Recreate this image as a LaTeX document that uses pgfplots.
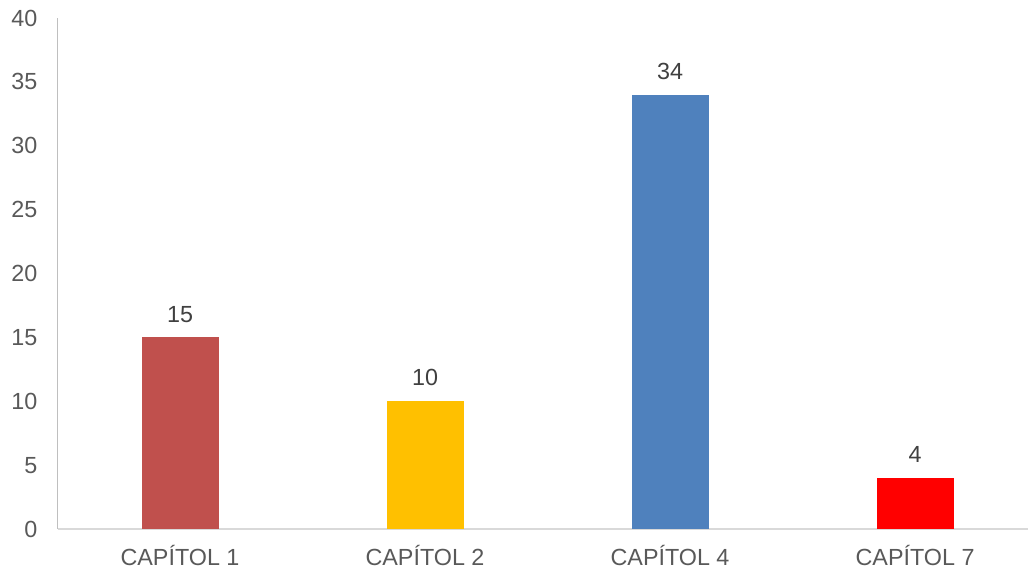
\documentclass[border=0pt]{standalone}
\usepackage{fontspec}
\setmainfont{Liberation Sans}
\usepackage{pgfplots}
\pgfplotsset{compat=1.18}
\definecolor{txt}{HTML}{595959}
\definecolor{c1}{HTML}{C0504D}
\definecolor{c2}{HTML}{FFC000}
\definecolor{c3}{HTML}{4F81BD}
\definecolor{c4}{HTML}{FF0000}
\begin{document}
\begin{tikzpicture}
\begin{axis}[
  at={(0,0)}, anchor=south west,
  scale only axis, width=727.875pt, height=383.25pt,
  xmin=-0.5, xmax=3.461, ymin=0, ymax=40,
  ytick={0,5,...,40},
  xtick={0,1,2,3},
  xticklabels={CAP\'ITOL 1,CAP\'ITOL 2,CAP\'ITOL 4,CAP\'ITOL 7},
  axis x line*=bottom, axis y line*=left,
  x axis line style={draw=black!15, line width=1pt, -},
  y axis line style={draw=black!25, line width=1pt, -},
  major tick length=0pt,
  tick style={draw=none},
  /pgf/number format/assume math mode=true,
  tick label style={font=\fontsize{17.5}{21}\selectfont, text=txt},
  yticklabel style={anchor=east, inner sep=0pt, xshift=-15pt},
  xticklabel style={anchor=base, inner sep=0pt, yshift=-27.75pt},
  ybar, bar width=57.75pt, bar shift=0pt,
  nodes near coords,
  every node near coord/.append style={font=\fontsize{17.5}{21}\selectfont, text=black!75, anchor=base, inner sep=0pt, yshift=11.5pt},
  clip=false,
]
\addplot[fill=c1, draw=none] coordinates {(0,15)};
\addplot[fill=c2, draw=none] coordinates {(1,10)};
\addplot[fill=c3, draw=none] coordinates {(2,34)};
\addplot[fill=c4, draw=none] coordinates {(3,4)};
\end{axis}
\pgfresetboundingbox
\path[use as bounding box] (-43.125pt,-33pt) rectangle (727.875pt,396.75pt);
\end{tikzpicture}
\end{document}
